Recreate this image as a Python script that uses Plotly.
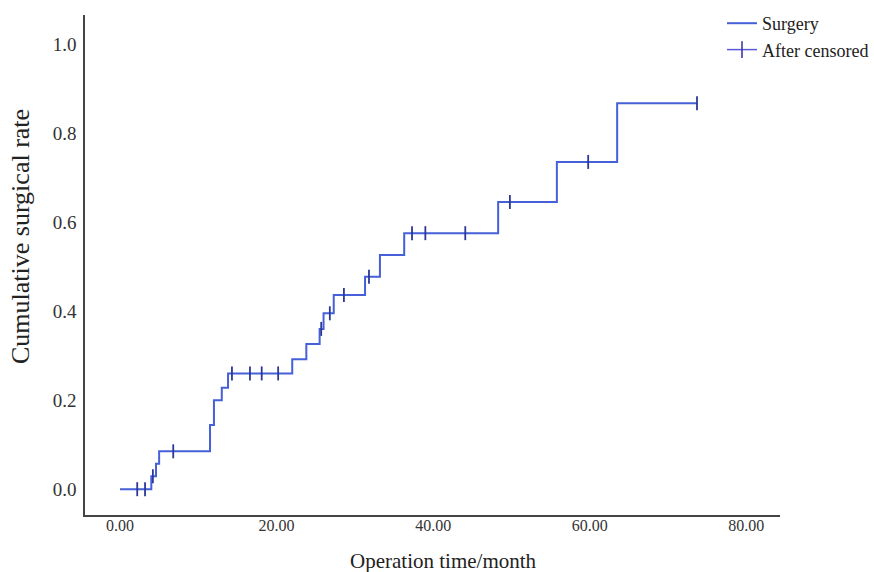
import numpy as np
import plotly.graph_objects as go

# Step (event) times in months and cumulative surgical rate after each step
event_times = [0.0, 4.0, 4.6, 5.0, 11.5, 12.0, 13.0, 13.8, 22.0, 23.8, 25.5, 26.0,
               27.3, 31.3, 33.2, 36.3, 48.3, 55.8, 63.5]
cum_rate = [0.0, 0.029, 0.057, 0.085, 0.144, 0.200, 0.228, 0.260, 0.292, 0.326, 0.360, 0.395,
            0.436, 0.477, 0.526, 0.575, 0.645, 0.735, 0.867]

# Censored observation times
censor_times = [2.2, 3.2, 4.2, 6.8, 14.3, 16.6, 18.1, 20.2, 25.7, 26.8, 28.6, 31.8,
                37.3, 39.0, 44.1, 49.8, 59.8, 73.7]

x_ticks = [0, 20, 40, 60, 80]
x_tick_labels = ["0.00", "20.00", "40.00", "60.00", "80.00"]
y_ticks = [0.0, 0.2, 0.4, 0.6, 0.8, 1.0]
y_tick_labels = ["0.0", "0.2", "0.4", "0.6", "0.8", "1.0"]

# step line extends to the last follow-up
step_x = list(event_times) + [max(censor_times)]
step_y = list(cum_rate) + [cum_rate[-1]]

# censor marks sit on the step function
idx = np.searchsorted(np.array(event_times), np.array(censor_times), side="right") - 1
censor_y = [cum_rate[i] for i in idx]

line_color = "#4560d8"
mark_color = "#2b3898"
font_family = "Liberation Serif, Times New Roman, serif"

W, H = 874, 572
L, R, T, B = 85, 94, 15, 57
PW, PH = W - L - R, H - T - B

fig = go.Figure()
fig.add_trace(go.Scatter(
    x=step_x, y=step_y, mode="lines", line_shape="hv",
    line=dict(color=line_color, width=2), name="Surgery",
))
fig.add_trace(go.Scatter(
    x=censor_times, y=censor_y, mode="markers", showlegend=False,
    marker=dict(symbol="line-ns", size=10, line=dict(color=mark_color, width=1.8)),
    name="After censored",
))
# legend entry: line with a vertical tick
fig.add_trace(go.Scatter(
    x=[None], y=[None], mode="lines+markers", name="After censored",
    line=dict(color="#5a5ad8", width=1.5),
    marker=dict(symbol="line-ns", size=12, line=dict(color="#3a3aa8", width=1.6)),
))

fig.update_layout(
    width=W, height=H,
    margin=dict(l=L, r=R, t=T, b=B, autoexpand=False),
    paper_bgcolor="white", plot_bgcolor="white",
    font=dict(family=font_family, size=16, color="#222222"),
    showlegend=True,
    legend=dict(x=(722 - L) / PW, y=1.02, xanchor="left", yanchor="top",
                bgcolor="rgba(0,0,0,0)", font=dict(size=18, family=font_family, color="#222222"),
                tracegroupgap=0, itemwidth=30),
    xaxis=dict(
        range=[-4.47, 84.3], tickvals=x_ticks, ticktext=x_tick_labels,
        showgrid=False, zeroline=False, showline=True, linecolor="#444444", linewidth=1.5,
        ticks="", ticklabelstandoff=-5, automargin=False,
        tickfont=dict(size=16, color="#333333"),
    ),
    yaxis=dict(
        range=[-0.058, 1.065], tickvals=y_ticks, ticktext=y_tick_labels,
        showgrid=False, zeroline=False, showline=True, linecolor="#444444", linewidth=1.5,
        ticks="", ticklabelstandoff=3, automargin=False,
        tickfont=dict(size=19, color="#333333"),
    ),
    annotations=[
        dict(text="Operation time/month", xref="paper", yref="paper",
             x=(443 - L) / PW, y=-(561 - (H - B)) / PH, xanchor="center", yanchor="middle",
             showarrow=False, font=dict(size=21, family=font_family, color="#222222")),
        dict(text="Cumulative surgical rate", xref="paper", yref="paper",
             x=-(L - 21) / PW, y=((H - B) - 237) / PH, xanchor="center", yanchor="middle",
             textangle=-90, showarrow=False,
             font=dict(size=26, family=font_family, color="#222222")),
    ],
)

fig.write_html("out.html", config={"displayModeBar": False},
               post_script="document.body.style.margin='0px';document.body.style.overflow='hidden';")
